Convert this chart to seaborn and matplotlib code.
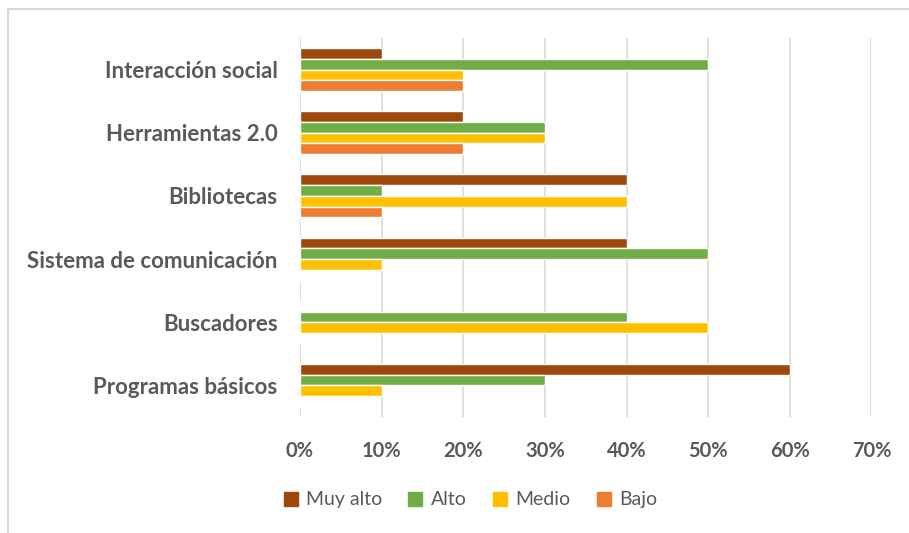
import numpy as np
import matplotlib
matplotlib.use("Agg")
import matplotlib.pyplot as plt
from matplotlib.ticker import PercentFormatter
from matplotlib.lines import Line2D
import seaborn as sns
import pandas as pd

# datos
categorias = ["Interacción social", "Herramientas 2.0", "Bibliotecas",
              "Sistema de comunicación", "Buscadores", "Programas básicos"]
niveles = ["Muy alto", "Alto", "Medio", "Bajo"]
muy_alto = [0.10, 0.20, 0.40, 0.40, 0.00, 0.60]
alto = [0.50, 0.30, 0.10, 0.50, 0.40, 0.30]
medio = [0.20, 0.30, 0.40, 0.10, 0.50, 0.10]
bajo = [0.20, 0.20, 0.10, 0.00, 0.00, 0.00]
colores = ["#9E480E", "#70AD47", "#FFC000", "#ED7D31"]

df = pd.DataFrame({
    "Categoria": categorias * 4,
    "Nivel": np.repeat(niveles, len(categorias)),
    "Valor": muy_alto + alto + medio + bajo,
})

sns.set_style("white")
plt.rcParams["font.family"] = ["Lato", "DejaVu Sans"]

fig = plt.figure(figsize=(9.09, 5.33), dpi=100)
ax = fig.add_axes([0.330, 0.2176, 0.6287, 0.7111])

sns.barplot(data=df, x="Valor", y="Categoria", hue="Nivel", order=categorias,
            hue_order=niveles, palette=colores, width=0.68, orient="h",
            saturation=1, ax=ax, legend=False)

ax.set_xlim(0, 0.7)
ax.set_xticks(np.arange(0, 0.71, 0.1))
ax.xaxis.set_major_formatter(PercentFormatter(1.0, decimals=0))
ax.grid(axis="x", color="#D9D9D9", linewidth=1.2)
ax.set_axisbelow(True)
for s in ax.spines.values():
    s.set_visible(False)
ax.set_xlabel("")
ax.set_ylabel("")
ax.tick_params(axis="x", length=0, pad=17, labelsize=14.5, labelcolor="#595959")
ax.tick_params(axis="y", length=0, pad=16, labelsize=16, labelcolor="#595959")
for t in ax.get_xticklabels() + ax.get_yticklabels():
    t.set_fontweight("bold")

# leyenda inferior
handles = [Line2D([0], [0], marker="s", linestyle="", markersize=10.5,
                  markerfacecolor=c, markeredgecolor=c) for c in colores]
fig.legend(handles, niveles, loc="center", bbox_to_anchor=(0.516, 0.062),
           ncol=4, frameon=False, fontsize=14, labelcolor="#595959",
           handletextpad=0.3, columnspacing=1.2, handlelength=1.0)

# marco parcial del grafico
fig.add_artist(Line2D([0.0088, 0.0088], [0, 0.983], color="#D9D9D9", linewidth=1.5,
                      transform=fig.transFigure))
fig.add_artist(Line2D([0.0088, 1], [0.983, 0.983], color="#D9D9D9", linewidth=1.5,
                      transform=fig.transFigure))

fig.savefig("out.png", dpi=100)
